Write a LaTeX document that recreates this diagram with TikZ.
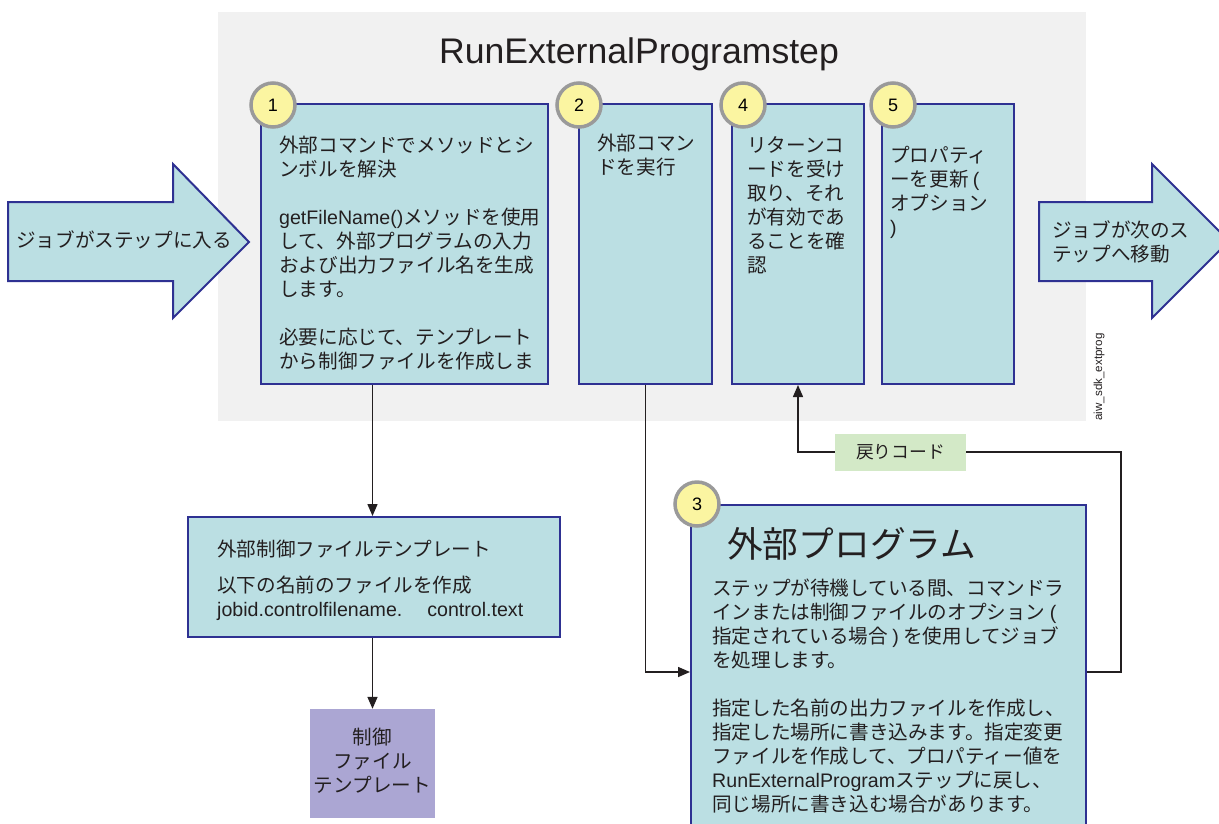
\documentclass[tikz,border=0pt]{standalone}
\usepackage{fontspec}
\setmainfont{Noto Sans CJK JP}
\newfontfamily\latfont{Liberation Sans}
\newcommand{\lat}[1]{{\latfont #1}}
\usetikzlibrary{arrows.meta,positioning}
\usepackage{xcolor}

\definecolor{boxblue}{HTML}{BBDFE3}
\definecolor{navy}{HTML}{2E3192}
\definecolor{bggray}{HTML}{F1F1F1}
\definecolor{numyellow}{HTML}{FBF5A1}
\definecolor{numgray}{HTML}{9A9A9A}
\definecolor{tplpurple}{HTML}{ABA6D3}
\definecolor{rcgreen}{HTML}{D3E9C7}
\definecolor{ink}{HTML}{231F20}

\tikzset{
  stepbox/.style={rectangle, draw=navy, line width=2pt, fill=boxblue, inner sep=0pt},
  bigarrow/.style={draw=navy, line width=2pt, fill=boxblue, line join=miter},
  boxtext/.style={anchor=base west, align=left, inner sep=0pt, text=ink,
    font=\fontsize{19.6}{24}\selectfont},
  num/.style={circle, draw=numgray, line width=3.5pt, fill=numyellow,
    minimum size=44pt, inner sep=0pt, text=black,
    font=\latfont\fontsize{18}{18}\selectfont},
  conn/.style={draw=ink, line width=1.5pt, -{Triangle[length=12pt,width=10pt]}},
  line/.style={draw=ink, line width=1.5pt}
}

\begin{document}
\begin{tikzpicture}[x=1pt, y=-1pt]
    \useasboundingbox (0,0) rectangle (1219,823);
    \clip (0,0) rectangle (1219,823);

    % Step area
    \fill[bggray] (218,12) rectangle (1086,421);
    \node[anchor=base, inner sep=0pt, text=ink, font=\latfont\fontsize{35.6}{40}\selectfont] (title) at (639,63) {RunExternalProgramstep};
    \node[rotate=90, inner sep=0pt, text=ink, font=\latfont\fontsize{11.6}{12}\selectfont] (figid) at (1099,377) {aiw\_sdk\_extprog};

    % Big arrows
    \draw[bigarrow] (8,202) -- (173,202) -- (173,164) -- (249,242) -- (173,318) -- (173,281) -- (8,281) -- cycle;
    \draw[bigarrow] (1039,202) -- (1152,202) -- (1152,164) -- (1229,241) -- (1152,318) -- (1152,281) -- (1039,281) -- cycle;
    \node[boxtext, anchor=base] (enter) at (124,247) {ジョブがステップに入る};
    % (base of a multi-line node = its last line)
    \node[boxtext] (leave) at (1052,261) {ジョブが次のス\\テップへ移動};

    % Steps
    \node[stepbox, minimum width=287pt, minimum height=280pt] (box1) at (404.5,244) {};
    \node[stepbox, minimum width=133pt, minimum height=280pt] (box2) at (645.5,244) {};
    \node[stepbox, minimum width=132pt, minimum height=280pt] (box4) at (798,244) {};
    \node[stepbox, minimum width=132pt, minimum height=280pt] (box5) at (948,244) {};
    \node[stepbox, minimum width=372pt, minimum height=120pt] (tmpl) at (374,577) {};
    \node[rectangle, fill=tplpurple, minimum width=125pt, minimum height=109pt] (ctrl) at (372.5,763.5) {};
    \node[stepbox, minimum width=395pt, minimum height=355pt] (ext) at (888.5,682.5) {};
    \node[rectangle, fill=rcgreen, minimum width=131pt, minimum height=37pt, inner sep=0pt, text=ink,
      font=\fontsize{17.8}{20}\selectfont] (rc) at (900.5,452) {戻りコード};

    % Numbers
    \node[num] (n1) at (273,105) {1};
    \node[num] (n2) at (579,105) {2};
    \node[num] (n4) at (743,105) {4};
    \node[num] (n5) at (893,105) {5};
    \node[num] (n3) at (697,504) {3};

    % Transitions
    \draw[conn] (box1.south -| ctrl.north) -- (tmpl.north -| ctrl.north);
    \draw[conn] (tmpl.south -| ctrl.north) -- (ctrl.north);
    \coordinate (extin) at ([yshift=-168pt]ext.north west);
    \coordinate (extout) at ([yshift=-168pt]ext.north east);
    \coordinate (rbend) at (1121,452);
    \draw[conn] (box2.south) |- (extin);
    \draw[line] (extout) -| (rbend) -- (rc.east);
    \draw[conn] (rc.west) -| (box4.south);

    % Texts
    \node[boxtext] (t1) at (279,368) {外部コマンドでメソッドとシ\\ンボルを解決\\[24pt]
      \lat{getFileName()}メソッドを使用\\して、外部プログラムの入力\\および出力ファイル名を生成\\します。\\[24pt]
      必要に応じて、テンプレート\\から制御ファイルを作成しま};
    \node[boxtext] (t2) at (597,174) {外部コマン\\ドを実行};
    \node[boxtext] (t4) at (747,272) {リターンコ\\ードを受け\\取り、それ\\が有効であ\\ることを確\\認};
    \node[boxtext] (t5) at (890,234) {プロパティ\\ーを更新 \lat{(}\\オプション\\\lat{)}};
    \node[boxtext] (ttmpl) at (217,616) {外部制御ファイルテンプレート\\[12pt]以下の名前のファイルを作成\\
      \lat{jobid.controlfilename.\hspace{25pt}control.text}};
    \node[boxtext, anchor=base, align=center] (tctrl) at (372.5,792) {制御\\ファイル\\テンプレート};
    \node[boxtext, font=\fontsize{35.7}{40}\selectfont] (text3) at (727,557) {外部プログラム};
    \node[boxtext] (t3) at (712,811) {ステップが待機している間、コマンドラ\\インまたは制御ファイルのオプション \lat{(}\\
      指定されている場合 \lat{)} を使用してジョブ\\を処理します。\\[24pt]
      指定した名前の出力ファイルを作成し、\\指定した場所に書き込みます。指定変更\\ファイルを作成して、プロパティー値を\\
      \lat{RunExternalProgram}ステップに戻し、\\同じ場所に書き込む場合があります。};
\end{tikzpicture}
\end{document}
